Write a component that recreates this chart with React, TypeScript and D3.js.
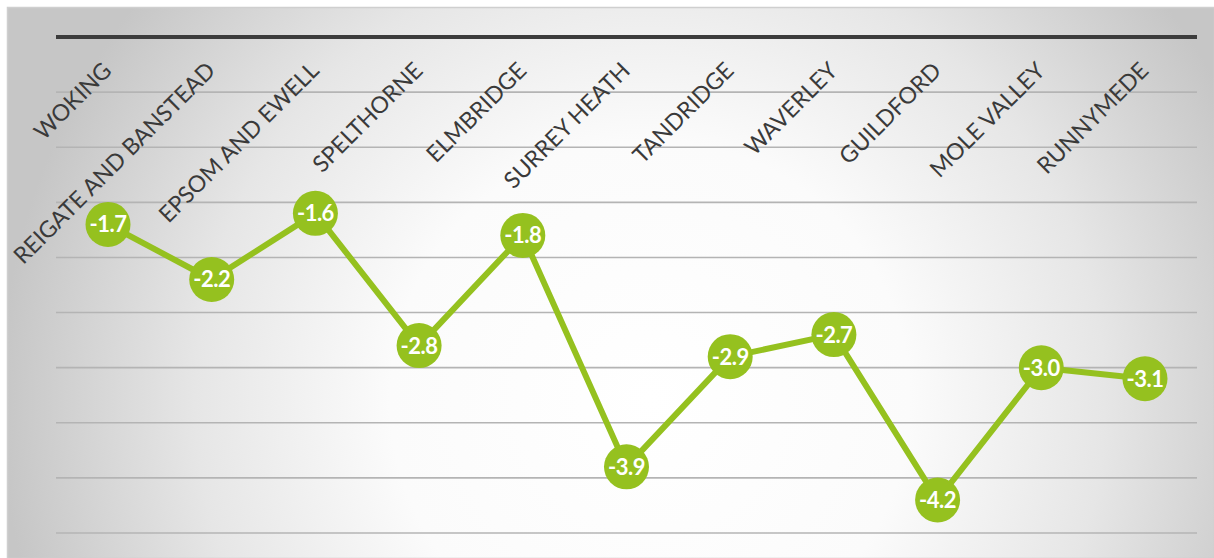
import React from "react";
import * as d3 from "d3";

const categories = [
  "WOKING",
  "REIGATE AND BANSTEAD",
  "EPSOM AND EWELL",
  "SPELTHORNE",
  "ELMBRIDGE",
  "SURREY HEATH",
  "TANDRIDGE",
  "WAVERLEY",
  "GUILDFORD",
  "MOLE VALLEY",
  "RUNNYMEDE",
];
const values = [-1.7, -2.2, -1.6, -2.8, -1.8, -3.9, -2.9, -2.7, -4.2, -3.0, -3.1];
const gridTicks = [0, -0.5, -1, -1.5, -2, -2.5, -3, -3.5, -4, -4.5];

const W = 1214;
const H = 558;
const GREEN = "#95c11f";

export default function App() {
  const x = d3.scalePoint<string>().domain(categories).range([108, 1145]);
  const y = d3.scaleLinear().domain([-4.5, 0]).range([533, 37]);
  const line = d3
    .line<number>()
    .x((_, i) => x(categories[i]) as number)
    .y((d) => y(d));

  return (
    <svg
      width={W}
      height={H}
      style={{ position: "absolute", left: 0, top: 0 }}
      fontFamily="Lato, 'Open Sans', sans-serif"
    >
      <defs>
        <radialGradient id="bg" gradientUnits="userSpaceOnUse" cx={650} cy={400} r={650}>
          <stop offset="0" stopColor="#ffffff" />
          <stop offset="0.4" stopColor="#fbfbfb" />
          <stop offset="0.7" stopColor="#e6e6e6" />
          <stop offset="1" stopColor="#c6c6c6" />
        </radialGradient>
      </defs>
      <rect x={0} y={0} width={W} height={H} fill="#ffffff" />
      <rect x={7.5} y={7.5} width={W - 7} height={H - 7} fill="url(#bg)" stroke="#cfcfcf" strokeWidth={1.5} />
      {gridTicks.slice(1).map((t) => (
        <line key={t} x1={56} x2={1197} y1={y(t)} y2={y(t)} stroke="#b4b4b4" strokeWidth={1.6} />
      ))}
      <line x1={56} x2={1197} y1={y(0)} y2={y(0)} stroke="#3c3c3c" strokeWidth={4} />
      {categories.map((c) => {
        const cx = (x(c) as number) + 5;
        const cy = 72;
        return (
          <text
            key={c}
            x={cx}
            y={cy}
            transform={`rotate(-45 ${cx} ${cy})`}
            textAnchor="end"
            fontSize={23}
            fill="#3a3a3a"
          >
            {c}
          </text>
        );
      })}
      <path d={line(values) || ""} fill="none" stroke={GREEN} strokeWidth={6} strokeLinejoin="round" />
      {values.map((v, i) => {
        const px = x(categories[i]) as number;
        const py = y(v);
        return (
          <g key={i}>
            <circle cx={px} cy={py} r={22.5} fill={GREEN} />
            <text
              x={px}
              y={py}
              dy="0.36em"
              textAnchor="middle"
              fontSize={22}
              fontWeight="bold"
              fill="#ffffff"
              letterSpacing={-0.5}
            >
              {v.toFixed(1)}
            </text>
          </g>
        );
      })}
    </svg>
  );
}
